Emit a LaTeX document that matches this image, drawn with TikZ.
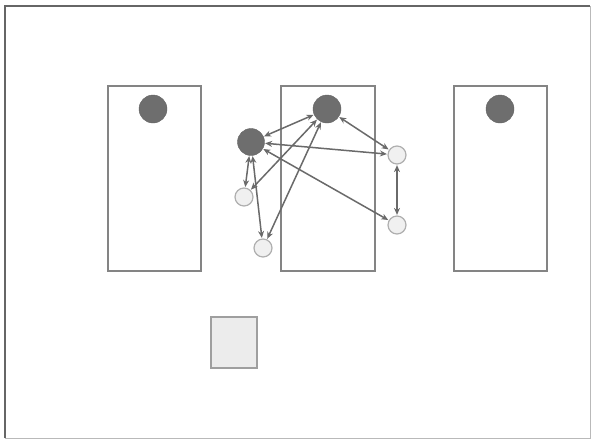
\documentclass[tikz,border=0pt]{standalone}
\usetikzlibrary{arrows.meta}
\definecolor{edgegray}{HTML}{6A6A6A}
\definecolor{darkfill}{HTML}{6E6E6E}
\definecolor{lightfill}{HTML}{F0F0F0}
\definecolor{lightline}{HTML}{AFAFAF}
\definecolor{boxline}{HTML}{848484}
\tikzset{
  panel/.style={draw=boxline, line width=1.1pt, fill=white},
  bigdot/.style={circle, fill=darkfill, draw=darkfill!90!black, line width=0.4pt, minimum size=28pt, inner sep=0pt},
  hubdot/.style={circle, fill=darkfill, draw=darkfill!90!black, line width=0.4pt, minimum size=27pt, inner sep=0pt},
  smalldot/.style={circle, fill=lightfill, draw=lightline, line width=1.2pt, minimum size=18pt, inner sep=0pt},
  link/.style={draw=edgegray, line width=1.5pt, {Stealth[length=7pt,width=6pt]}-{Stealth[length=7pt,width=6pt]}, shorten <=0.5pt, shorten >=0.5pt},
  tile/.style={draw=gray!75, line width=1.1pt, fill=gray!15}
}
\begin{document}
\begin{tikzpicture}[x=1pt,y=-1pt]
\useasboundingbox (0,0) rectangle (593,442);
% outer frame
\coordinate (tl) at (5,6);
\coordinate (tr) at (590,6);
\coordinate (bl) at (5,438);
\coordinate (br) at (590,438);
\draw[gray!55, line width=0.9pt] (tr) -- (br) -- (bl);
\draw[gray!80!black, line width=2.2pt] (bl) -- (tl) -- (tr);
% panels
\node[panel, minimum width=93pt, minimum height=185pt, inner sep=0pt] (p1) at (154.5,178.5) {};
\node[panel, minimum width=94pt, minimum height=185pt, inner sep=0pt] (p2) at (328,178.5) {};
\node[panel, minimum width=93pt, minimum height=185pt, inner sep=0pt] (p3) at (500.5,178.5) {};
% big dots
\node[bigdot] (d1) at (153,109) {};
\node[bigdot] (d2) at (327,109) {};
\node[bigdot] (d3) at (500,109) {};
% hub
\node[hubdot] (a) at (251,142) {};
% small dots
\node[smalldot] (s1) at (244,197) {};
\node[smalldot] (s2) at (263,248) {};
\node[smalldot] (s3) at (397,155) {};
\node[smalldot] (s4) at (397,225) {};
% links
\draw[link] (a) -- (d2);
\draw[link] (d2) -- (s3);
\draw[link] (a) -- (s3);
\draw[link] (s3) -- (s4);
\draw[link] (a) -- (s4);
\draw[link] (a) -- (s1);
\draw[link] (a) -- (s2);
\draw[link] (s1) -- (d2);
\draw[link] (s2) -- (d2);
% tile
\node[tile, minimum width=46pt, minimum height=51pt, inner sep=0pt] (t) at (234,342.5) {};
\end{tikzpicture}
\end{document}
